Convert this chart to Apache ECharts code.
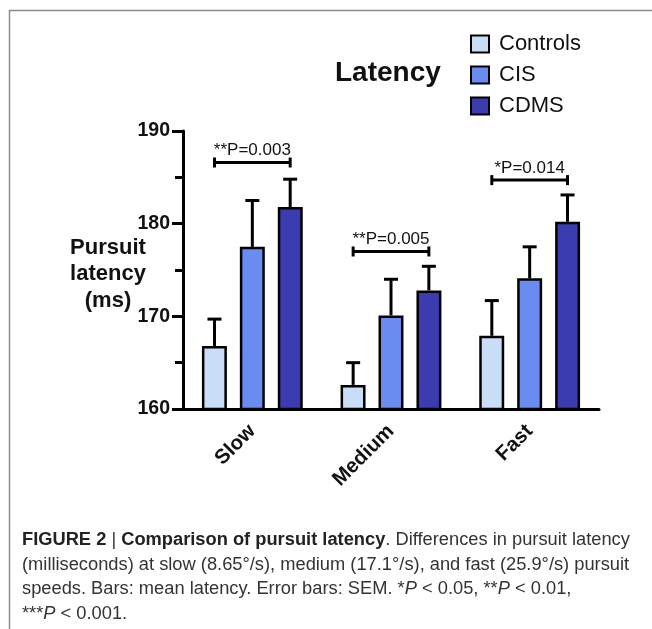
<!DOCTYPE html>
<html>
<head>
<meta charset="utf-8">
<script src="https://cdn.jsdelivr.net/npm/echarts@6/dist/echarts.min.js"></script>
<style>
  html, body { margin: 0; padding: 0; background: #fff; }
  #chart { width: 652px; height: 629px; }
</style>
</head>
<body>
<div id="chart"></div>
<script>
const speeds = ['Slow', 'Medium', 'Fast']
const groups = ['Controls', 'CIS', 'CDMS']
const colors = ['#c8ddf6', '#6a8cf0', '#3b3caf']

// mean latency (ms) per group, per speed
const controlsMean = [166.8, 162.6, 167.9]
const cisMean = [177.5, 170.1, 174.1]
const cdmsMean = [181.8, 172.8, 180.2]
// SEM (upper error bar only)
const controlsSem = [2.9, 2.4, 3.8]
const cisSem = [5.0, 3.9, 3.4]
const cdmsSem = [3.0, 2.6, 2.9]

// significance brackets (Controls vs CDMS)
const sigY = [186.6, 177.0, 184.7]
const sigLabels = ['**P=0.003', '**P=0.005', '*P=0.014']

const yTicks = [160, 170, 180, 190]

const means = [controlsMean, cisMean, cdmsMean]
const sems = [controlsSem, cisSem, cdmsSem]

const OFFSET = 0.273 // bar centre offset, fraction of category band

const chart = echarts.init(document.getElementById('chart'))

function errorBarRender(idx) {
  return function (params, api) {
    const base = api.coord([api.value(0), api.value(1)])
    const top = api.coord([api.value(0), api.value(1) + api.value(2)])
    const band = api.size([1, 0])[0]
    const x = base[0] + (idx - 1) * band * OFFSET
    const style = { stroke: '#000', lineWidth: 3 }
    return {
      type: 'group',
      children: [
        { type: 'line', shape: { x1: x, y1: base[1], x2: x, y2: top[1] }, style },
        { type: 'line', shape: { x1: x - 7, y1: top[1], x2: x + 7, y2: top[1] }, style }
      ]
    }
  }
}

function bracketRender(params, api) {
  const p = api.coord([api.value(0), api.value(1)])
  const band = api.size([1, 0])[0]
  const x1 = p[0] - band * OFFSET
  const x2 = p[0] + band * OFFSET
  const style = { stroke: '#000', lineWidth: 3 }
  return {
    type: 'group',
    children: [
      { type: 'line', shape: { x1, y1: p[1], x2, y2: p[1] }, style },
      { type: 'line', shape: { x1, y1: p[1] - 5, x2: x1, y2: p[1] + 5 }, style },
      { type: 'line', shape: { x1: x2, y1: p[1] - 5, x2, y2: p[1] + 5 }, style },
      {
        type: 'text',
        x: p[0], y: p[1] - 12,
        style: {
          text: sigLabels[params.dataIndex],
          fill: '#111', font: '17px "Liberation Sans", Arial, sans-serif',
          align: 'center', verticalAlign: 'middle'
        }
      }
    ]
  }
}

const barSeries = groups.map((name, i) => ({
  name,
  type: 'bar',
  data: means[i],
  barWidth: '18%',
  barGap: '52%',
  itemStyle: { color: colors[i], borderColor: '#000', borderWidth: 2.5 },
  z: 3
}))

const errSeries = groups.map((name, i) => ({
  type: 'custom',
  renderItem: errorBarRender(i),
  data: speeds.map((s, j) => [j, means[i][j], sems[i][j]]),
  z: 2,
  clip: false
}))

const captionFont = '"Liberation Sans", Arial, sans-serif'
const capSize = 18.3

chart.setOption({
  animation: false,
  backgroundColor: '#fff',
  textStyle: { fontFamily: '"Liberation Sans", Arial, sans-serif' },
  grid: { left: 183, top: 131, width: 416, height: 278, containLabel: false },
  legend: {
    data: groups,
    orient: 'vertical',
    left: 470,
    top: 33,
    padding: 0,
    itemWidth: 18,
    itemHeight: 17,
    itemGap: 9,
    icon: 'rect',
    textStyle: { fontSize: 22, color: '#111', padding: [0, 0, 0, 5] }
  },
  xAxis: {
    type: 'category',
    data: speeds,
    axisLine: { lineStyle: { color: '#000', width: 3 } },
    axisTick: { alignWithLabel: true, length: 7, lineStyle: { color: '#000', width: 3 } },
    axisLabel: { rotate: 45, fontSize: 20.5, fontWeight: 'bold', color: '#111', margin: 19 }
  },
  yAxis: {
    type: 'value',
    min: yTicks[0],
    max: yTicks[yTicks.length - 1],
    interval: 10,
    axisLine: { show: true, lineStyle: { color: '#000', width: 3 } },
    axisTick: { show: true, length: 11, lineStyle: { color: '#000', width: 3 } },
    minorTick: { show: true, splitNumber: 2, length: 8, lineStyle: { color: '#000', width: 3 } },
    splitLine: { show: false },
    axisLabel: { fontSize: 19.5, fontWeight: 'bold', color: '#111', margin: 13 }
  },
  series: [
    ...errSeries,
    ...barSeries,
    { type: 'custom', renderItem: bracketRender, data: speeds.map((s, j) => [j, sigY[j]]), clip: false, z: 4 }
  ],
  graphic: [
    { type: 'line', shape: { x1: 9.5, y1: 10, x2: 9.5, y2: 629 }, style: { stroke: '#8c8c8c', lineWidth: 1.5 } },
    { type: 'line', shape: { x1: 9, y1: 10.5, x2: 652, y2: 10.5 }, style: { stroke: '#8c8c8c', lineWidth: 1.5 } },
    {
      type: 'text', x: 335, y: 73,
      style: { text: 'Latency', font: 'bold 28px "Liberation Sans", Arial, sans-serif', fill: '#111', verticalAlign: 'middle' }
    },
    {
      type: 'text', x: 108, y: 274,
      style: {
        text: 'Pursuit\nlatency\n(ms)',
        font: 'bold 22px "Liberation Sans", Arial, sans-serif',
        fill: '#111', align: 'center', verticalAlign: 'middle', lineHeight: 26.5
      }
    },
    {
      type: 'text', x: 22, y: 528,
      style: {
        text: '{b|FIGURE 2 }{n||}{b| Comparison of pursuit latency}{n|. Differences in pursuit latency}\n' +
          '{n|(milliseconds) at slow (8.65°/s), medium (17.1°/s), and fast (25.9°/s) pursuit}\n' +
          '{n|speeds. Bars: mean latency. Error bars: SEM. *}{i|P}{n| < 0.05, **}{i|P}{n| < 0.01,}\n' +
          '{n|***}{i|P}{n| < 0.001.}',
        fill: '#333',
        rich: {
          b: { font: 'bold ' + capSize + 'px ' + captionFont, fill: '#222', lineHeight: 24.5 },
          n: { font: capSize + 'px ' + captionFont, fill: '#333', lineHeight: 24.5 },
          i: { font: 'italic ' + capSize + 'px ' + captionFont, fill: '#333', lineHeight: 24.5 }
        }
      }
    }
  ]
})
</script>
</body>
</html>
